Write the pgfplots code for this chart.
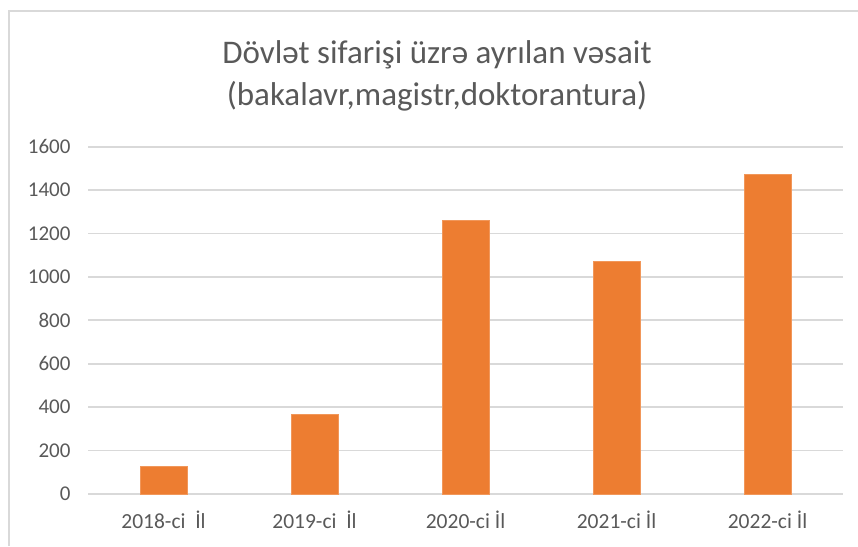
\documentclass[border=0pt]{standalone}
\usepackage{fontspec}
\setmainfont{Carlito}
\usepackage{pgfplots}
\pgfplotsset{compat=1.18}
\definecolor{barc}{HTML}{ED7D31}
\definecolor{gridc}{HTML}{D9D9D9}
\definecolor{txt}{HTML}{595959}
\begin{document}
\begin{tikzpicture}
\path[use as bounding box] (0pt,0pt) rectangle (858pt,546pt);
\draw[gridc, line width=2pt] (9pt,0pt) -- (9pt,535pt) -- (858pt,535pt);
\node[txt, align=center, font=\fontsize{33}{42}\selectfont] at (437pt,470pt) {Dövlət sifarişi üzrə ayrılan vəsait\\(bakalavr,magistr,doktorantura)};
\begin{axis}[
  at={(88pt,52pt)}, anchor=south west,
  scale only axis, width=755pt, height=347.3pt,
  xmin=-0.5, xmax=4.5, ymin=0, ymax=1600,
  ytick={0,200,...,1600},
  xtick={0,1,2,3,4},
  xticklabels={{2018-ci\ \ İl},{2019-ci\ \ İl},{2020-ci İl},{2021-ci İl},{2022-ci İl}},
  ymajorgrids, grid style={gridc, line width=1.8pt},
  axis line style={draw=none},
  major tick length=0pt,
  /pgf/number format/assume math mode=true,
  /pgf/number format/1000 sep={},
  tick label style={text=txt},
  yticklabel style={font=\fontsize{21}{24}\selectfont, anchor=east, xshift=-14pt},
  xticklabel style={font=\fontsize{21.5}{24}\selectfont, anchor=north, yshift=-13pt},
  ybar, bar width=47pt,
]
\addplot[fill=barc, draw=barc!80!white, line width=0.6pt] coordinates {(0,128) (1,368) (2,1259) (3,1070) (4,1472)};
\end{axis}
\end{tikzpicture}
\end{document}
